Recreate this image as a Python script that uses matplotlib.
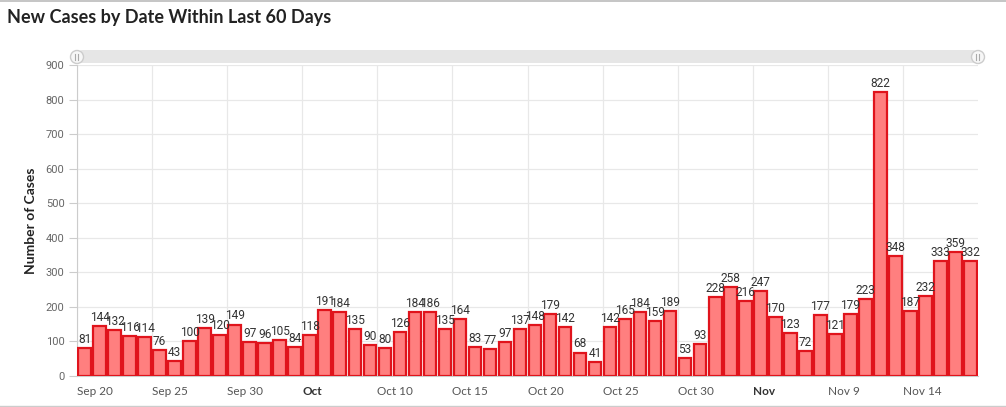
import matplotlib
matplotlib.use("Agg")
import matplotlib.pyplot as plt
from matplotlib import font_manager
from matplotlib.patches import FancyBboxPatch, Circle
import numpy as np

cases = [81, 144, 132, 116, 114, 76, 43, 100, 139, 120, 149, 97, 96, 105, 84,
         118, 191, 184, 135, 90, 80, 126, 184, 186, 135, 164, 83, 77, 97, 137,
         148, 179, 142, 68, 41, 142, 165, 184, 159, 189, 53, 93, 228, 258, 216,
         247, 170, 123, 72, 177, 121, 179, 223, 822, 348, 187, 232, 333, 359, 332]
tick_labels = ["Sep 20", "Sep 25", "Sep 30", "Oct", "Oct 10", "Oct 15",
               "Oct 20", "Oct 25", "Oct 30", "Nov", "Nov 9", "Nov 14"]
bold_ticks = ["Oct", "Nov"]
y_ticks = [0, 100, 200, 300, 400, 500, 600, 700, 800, 900]

names = {f.name for f in font_manager.fontManager.ttflist}
narrow = "Liberation Sans Narrow" if "Liberation Sans Narrow" in names else "Roboto"
narrow_size = 9.3 if narrow == "Liberation Sans Narrow" else 8.6
main = "Lato" if "Lato" in names else "DejaVu Sans"

W, H = 1006, 407
fig = plt.figure(figsize=(W / 100, H / 100), dpi=100)
fig.patch.set_facecolor("white")

L, R, T, B = 77, 978, 65, 376
ax = fig.add_axes([L / W, 1 - B / H, (R - L) / W, (B - T) / H])

x = np.arange(len(cases)) + 0.5
ax.bar(x, cases, width=0.84, color="#ff7f7f", edgecolor="#e0141c",
       linewidth=1.6, zorder=3)
for xi, v in zip(x, cases):
    ax.text(xi, v + 6, str(v), ha="center", va="bottom", fontsize=narrow_size,
            family=narrow, color="#333333", zorder=4)

ax.set_xlim(0, len(cases))
ax.set_ylim(0, 900)
ax.set_yticks(y_ticks)
ax.set_yticklabels([str(v) for v in y_ticks], fontsize=8,
                   color="#666666", family=narrow)
tick_pos = np.arange(len(tick_labels)) * 5
ax.set_xticks(tick_pos)
ax.set_xticklabels(tick_labels, fontsize=8.5, color="#555555", ha="left",
                   family=main)
for lab in ax.get_xticklabels():
    if lab.get_text() in bold_ticks:
        lab.set_fontweight("bold")
        lab.set_color("#333333")
ax.tick_params(axis="x", length=0, pad=7)
ax.tick_params(axis="y", length=6, color="#cccccc", pad=3)
ax.grid(True, color="#e8e8e8", linewidth=0.9, zorder=0)
for s in ["top", "right"]:
    ax.spines[s].set_visible(False)
ax.spines["left"].set_color("#cccccc")
ax.spines["bottom"].set_color("#cccccc")
ax.set_ylabel("Number of Cases", fontsize=10, fontweight="bold", family=main,
              color="#222222", labelpad=0)
ax.yaxis.set_label_coords((37 - L) / (R - L), 0.5)

# title
fig.text(7 / W, 1 - 18 / H, "New Cases by Date Within Last 60 Days",
         fontsize=13, fontweight="bold", family=main, color="#222222",
         va="center", ha="left")

# scrollbar decoration
sb = fig.add_axes([0, 0, 1, 1], facecolor="none")
sb.set_xlim(0, W)
sb.set_ylim(H, 0)
sb.axis("off")
sb.add_patch(FancyBboxPatch((L, 50), R - L, 13, boxstyle="round,pad=0,rounding_size=6",
                            facecolor="#e6e6e6", edgecolor="none"))
for cx in (L, R):
    sb.add_patch(Circle((cx, 57), 6.5, facecolor="#f7f7f7", edgecolor="#cccccc",
                        linewidth=1))
    sb.plot([cx - 1.5, cx - 1.5], [54, 60], color="#aaaaaa", lw=0.8)
    sb.plot([cx + 1.5, cx + 1.5], [54, 60], color="#aaaaaa", lw=0.8)
sb.plot([0, W], [0.8, 0.8], color="#bbbbbb", lw=1.2)
sb.plot([0, W], [405.5, 405.5], color="#cccccc", lw=1)

fig.savefig("out.png", dpi=100)
